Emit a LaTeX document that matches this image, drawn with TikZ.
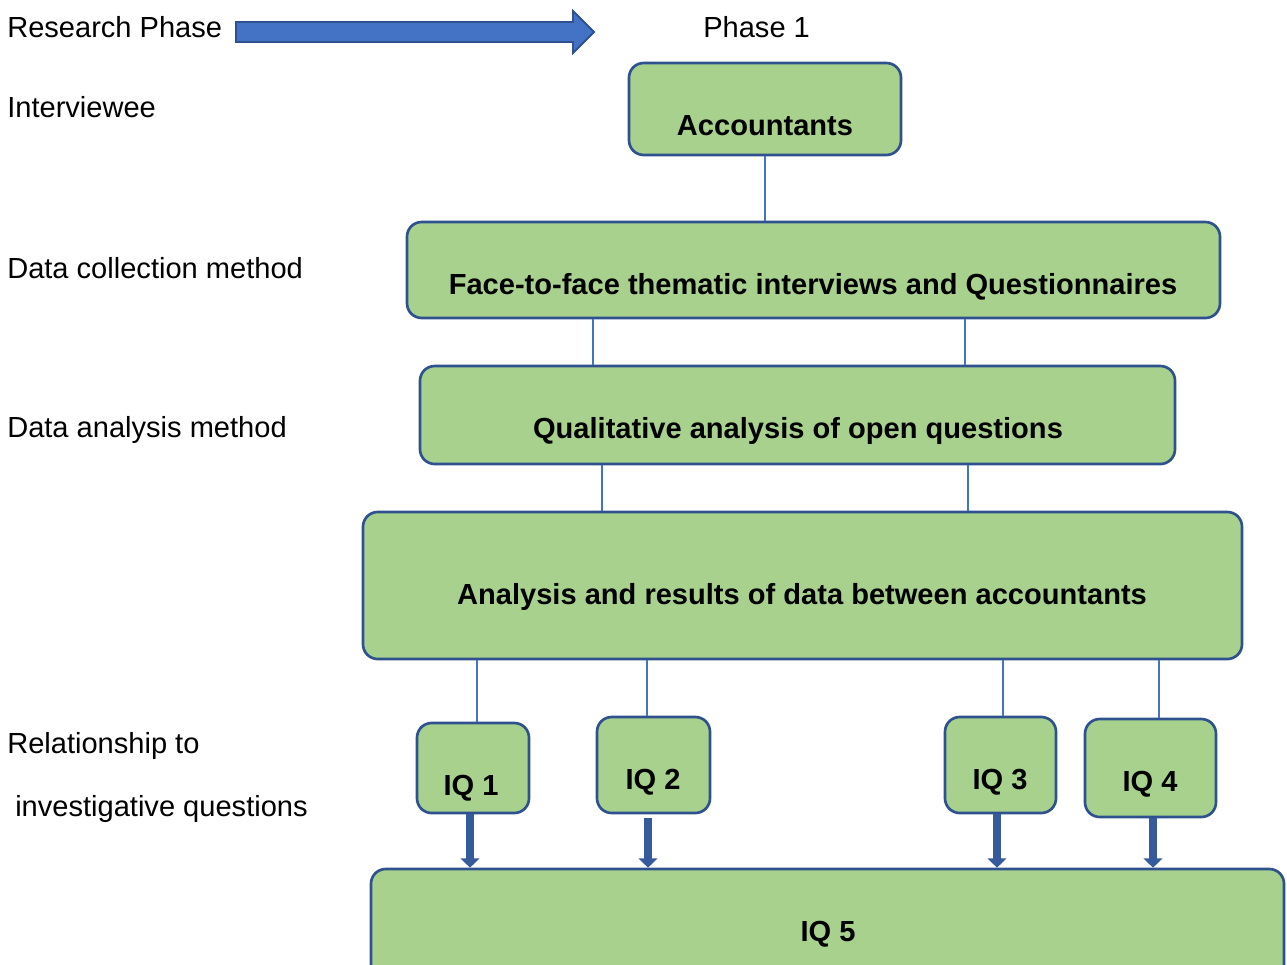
\documentclass[tikz,border=0pt]{standalone}
\usepackage{fontspec}
\setmainfont{Liberation Sans}
\usetikzlibrary{arrows.meta}
\definecolor{stagefill}{HTML}{A9D18E}
\definecolor{stageline}{HTML}{2F528F}
\definecolor{linkblue}{HTML}{4472C4}
\newcommand\bigsz{\fontsize{21.8}{26}\selectfont}

\tikzset{
  stage/.style 2 args={draw=stageline, fill=stagefill, line width=2pt, rounded corners=11pt,
    minimum width=#1*0.75pt, minimum height=#2*0.75pt, inner sep=0pt},
  stagetext/.style={font=\bigsz\bfseries, anchor=base, inner sep=0pt},
  phasetext/.style={font=\bigsz, anchor=base west, inner sep=0pt},
  link/.style={draw=linkblue, line width=0.8pt},
  feed/.style={draw=linkblue!80!black, line width=6pt, -{Triangle[width=14pt,length=7pt]}},
}

\begin{document}
\begin{tikzpicture}[x=0.75pt, y=-0.75pt]
\useasboundingbox (0,0) rectangle (1287,964);
\clip (0,0) rectangle (1287,964);

% left column
\node[phasetext] (rphase) at (7,37) {Research Phase};
\node[phasetext] (ivee) at (7,117) {Interviewee};
\node[phasetext] (dcoll) at (7,278) {Data collection method};
\node[phasetext] (danal) at (7,437) {Data analysis method};
\node[phasetext] (rel1) at (7,753) {Relationship to};
\node[phasetext] (rel2) at (15,816) {investigative questions};
\node[phasetext] (ph1) at (703,37) {Phase 1};

% block arrow
\filldraw[fill=linkblue, draw=stageline, line width=1.4pt]
  (236,22) -- (573,22) -- (573,11) -- (594,32) -- (573,53) -- (573,42) -- (236,42) -- cycle;

% boxes
\node[stage={272}{92}] (acc) at (765,109) {};
\node[stage={813}{96}] (ftf) at (813.5,270) {};
\node[stage={755}{98}] (qual) at (797.5,415) {};
\node[stage={879}{147}] (anl) at (802.5,585.5) {};
\node[stage={112}{90}] (iq1) at (473,768) {};
\node[stage={113}{96}] (iq2) at (653.5,765) {};
\node[stage={111}{96}] (iq3) at (1000.5,765) {};
\node[stage={131}{98}] (iq4) at (1150.5,768) {};
\node[stage={913}{150}] (iq5) at (827.5,944) {};

\node[stagetext] (accT) at (765,135) {Accountants};
\node[stagetext] (ftfT) at (813,294) {Face-to-face thematic interviews and Questionnaires};
\node[stagetext] (qualT) at (798,438) {Qualitative analysis of open questions};
\node[stagetext] (anlT) at (802,604) {Analysis and results of data between accountants};
\node[stagetext] (iq1T) at (471,795) {IQ 1};
\node[stagetext] (iq2T) at (653,789) {IQ 2};
\node[stagetext] (iq3T) at (1000,789) {IQ 3};
\node[stagetext] (iq4T) at (1150,791) {IQ 4};
\node[stagetext] (iq5T) at (828,941) {IQ 5};

% thin links
\coordinate (xa) at (593,0);
\coordinate (xb) at (965,0);
\coordinate (xc) at (602,0);
\coordinate (xd) at (968,0);
\coordinate (x1) at (477,0);
\coordinate (x2) at (647,0);
\coordinate (x3) at (1003,0);
\coordinate (x4) at (1159,0);
\draw[link] (acc.south) -- (ftf.north -| acc.south);
\draw[link] (ftf.south -| xa) -- (qual.north -| xa);
\draw[link] (ftf.south -| xb) -- (qual.north -| xb);
\draw[link] (qual.south -| xc) -- (anl.north -| xc);
\draw[link] (qual.south -| xd) -- (anl.north -| xd);
\draw[link] (anl.south -| x1) -- (iq1.north -| x1);
\draw[link] (anl.south -| x2) -- (iq2.north -| x2);
\draw[link] (anl.south -| x3) -- (iq3.north -| x3);
\draw[link] (anl.south -| x4) -- (iq4.north -| x4);

% thick arrows to IQ 5
\coordinate (y1) at (470,0);
\coordinate (y2) at (648,0);
\coordinate (y3) at (997,0);
\coordinate (y4) at (1153,0);
\draw[feed] (iq1.south -| y1) -- (iq5.north -| y1);
\draw[feed] ([yshift=-3pt]iq2.south -| y2) -- (iq5.north -| y2);
\draw[feed] (iq3.south -| y3) -- (iq5.north -| y3);
\draw[feed] (iq4.south -| y4) -- (iq5.north -| y4);
\end{tikzpicture}
\end{document}
